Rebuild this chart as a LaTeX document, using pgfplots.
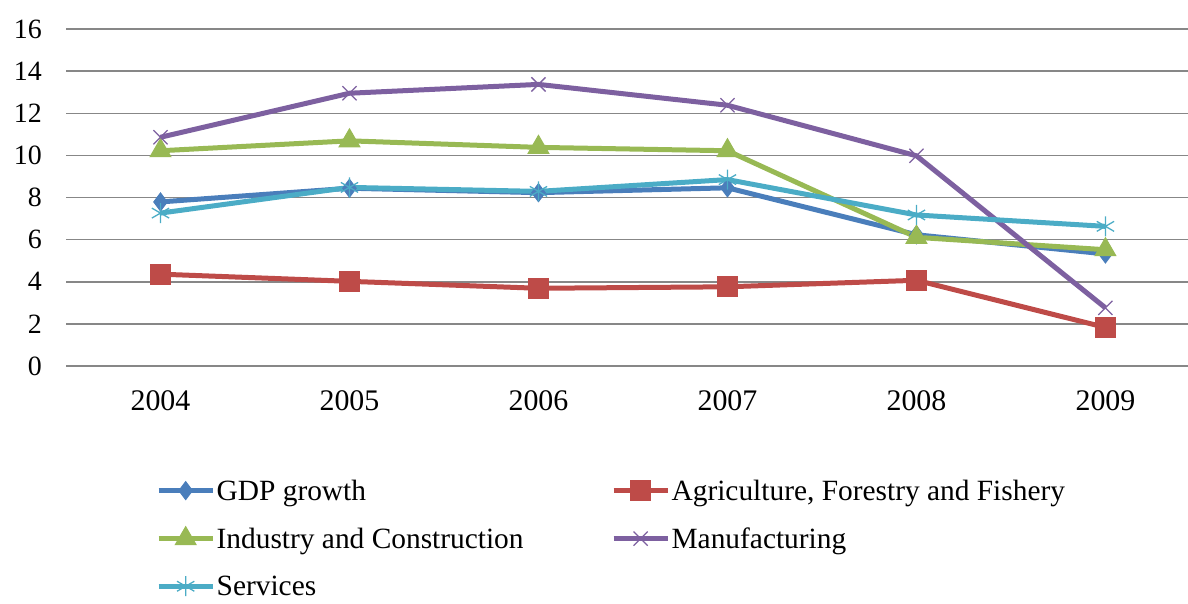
\documentclass[border=0pt]{standalone}
\usepackage{fontspec}
\setmainfont{Liberation Serif}
\usepackage{pgfplots}
\pgfplotsset{compat=1.18}

\definecolor{cGDP}{HTML}{4A7EBB}
\definecolor{cAgr}{HTML}{BE4B48}
\definecolor{cInd}{HTML}{98B954}
\definecolor{cMan}{HTML}{7D60A0}
\definecolor{cSer}{HTML}{4BACC6}

\begin{document}
\begin{tikzpicture}
\useasboundingbox (-66bp,-238bp) rectangle (1122bp,366bp);
\begin{axis}[
    scale only axis,
    width=1122bp, height=337bp,
    xmin=-0.5, xmax=5.437,
    ymin=0, ymax=16,
    ytick={0,2,...,16},
    xtick={0,...,5},
    xticklabels={2004,2005,2006,2007,2008,2009},
    ymajorgrids,
    grid style={line width=1.5bp, color=black!47},
    axis line style={draw=none},
    tick style={draw=none},
    clip=false,
    /pgf/number format/assume math mode=true,
    yticklabel style={inner sep=0pt, xshift=-24bp, font=\rmfamily\fontsize{28}{33}\selectfont},
    xticklabel style={inner sep=0pt, yshift=-24bp, font=\rmfamily\fontsize{30}{35}\selectfont},
    every axis plot/.append style={line width=5bp},
    legend image code/.code={
      \draw[mark repeat=2, mark phase=2] plot coordinates {(0bp,0bp) (27bp,0bp) (54bp,0bp)};
    },
    legend columns=2,
    legend cell align=left,
    legend style={
      at={(0,0)}, anchor=north west, xshift=87bp, yshift=-110bp,
      draw=none, fill=none,
      font=\rmfamily\fontsize{29.5}{34}\selectfont,
      nodes={inner sep=1.5bp},
      row sep=23bp,
      /tikz/every even column/.append style={column sep=86bp},
    },
  ]
\addplot[color=cGDP, mark=diamond*, mark size=9bp, mark options={line width=1bp}]
  coordinates {(0,7.79) (1,8.44) (2,8.23) (3,8.46) (4,6.23) (5,5.32)};
\addlegendentry{GDP growth}
\addplot[color=cAgr, mark=square*, mark size=10bp, mark options={line width=1bp}]
  coordinates {(0,4.36) (1,4.02) (2,3.69) (3,3.76) (4,4.07) (5,1.83)};
\addlegendentry{Agriculture, Forestry and Fishery}
\addplot[color=cInd, mark=triangle*, mark size=12bp, mark options={line width=1bp}]
  coordinates {(0,10.22) (1,10.69) (2,10.38) (3,10.22) (4,6.11) (5,5.52)};
\addlegendentry{Industry and Construction}
\addplot[color=cMan, mark=x, mark size=10bp, mark options={line width=1.3bp}]
  coordinates {(0,10.86) (1,12.95) (2,13.37) (3,12.38) (4,9.98) (5,2.76)};
\addlegendentry{Manufacturing}
\addplot[color=cSer, mark=asterisk, mark size=10bp, mark options={line width=1.3bp}]
  coordinates {(0,7.26) (1,8.48) (2,8.29) (3,8.85) (4,7.17) (5,6.63)};
\addlegendentry{Services}
\end{axis}
\end{tikzpicture}
\end{document}
